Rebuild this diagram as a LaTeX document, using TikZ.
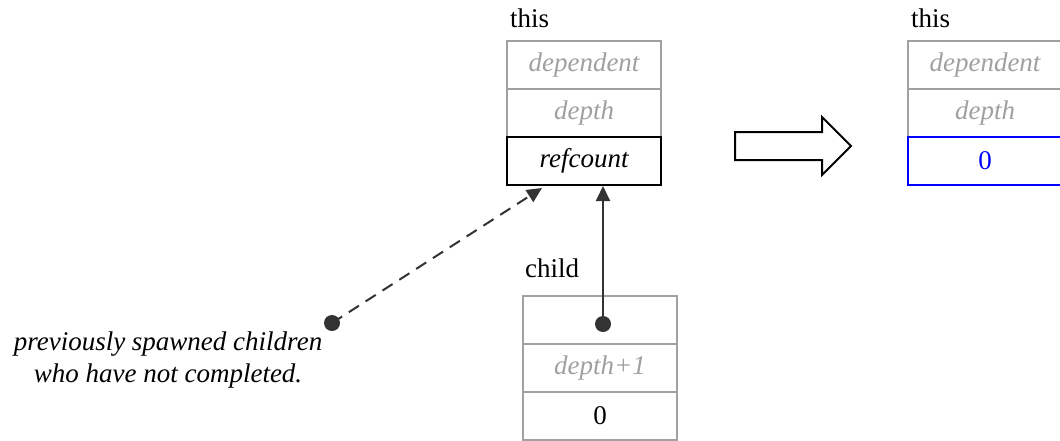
\documentclass[tikz,border=0pt]{standalone}
\usepackage{fontspec}
\setmainfont{Liberation Serif}
\usetikzlibrary{arrows.meta,calc,positioning}
\definecolor{lgray}{HTML}{A0A0A0}
\definecolor{dgray}{HTML}{333333}

\begin{document}
\fontsize{27}{32}\selectfont
\begin{tikzpicture}[x=1pt,y=-1pt,
    cell/.style={draw=lgray, line width=2pt, minimum width=154pt, minimum height=48pt, inner sep=0pt, text=lgray, font=\itshape},
    ptr/.style={draw=dgray, line width=2pt, -{Triangle[length=15pt,width=14pt]}},
    pdot/.style={circle, fill=dgray, inner sep=0pt, minimum size=16pt}]
  \useasboundingbox (0,0) rectangle (1060,440);
  \node[anchor=base west] (thisL) at (501,27) {this};
  \node[cell] (depL) at (584,65) {dependent};
  \node[cell] (dpthL) at (584,113) {depth};
  \node[cell, draw=black, text=black] (refL) at (584,161) {refcount};
  \node[anchor=base west] (thisR) at (902,27) {this};
  \node[cell] (depR) at (985,65) {dependent};
  \node[cell] (dpthR) at (985,113) {depth};
  \node[cell, draw=blue, text=blue, font=\upshape] (refR) at (985,161) {0};
  \node[anchor=base west] (child) at (516,277) {child};
  \node[cell] (ptrC) at (600,320) {};
  \node[cell] (dpthC) at (600,368) {depth+1};
  \node[cell, text=black, font=\upshape] (refC) at (600,416) {0};
  \draw[line width=2pt] (735,132) -- (822,132) -- (822,117) -- (851,146)
    -- (822,175) -- (822,160) -- (735,160) -- cycle;
  \node[pdot] (dotC) at (603,324) {};
  \draw[ptr] (dotC.center) -- (dotC.center |- refL.south);
  \node[pdot] (dotL) at (332,323) {};
  \draw[ptr, dash pattern=on 12pt off 8pt] (dotL.center) -- ($(refL.south west)+(36,2)$);
  \node[align=center, font=\itshape] (note) at (168,360) {previously spawned children\\who have not completed.};
\end{tikzpicture}
\end{document}
